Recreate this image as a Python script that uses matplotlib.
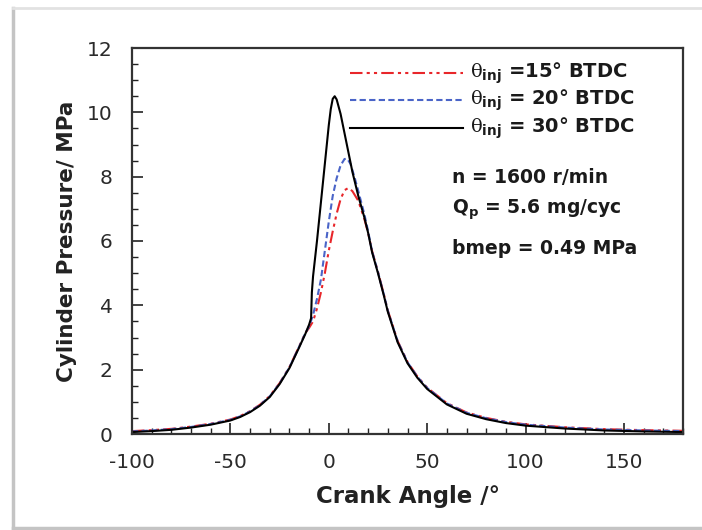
import matplotlib
matplotlib.use('Agg')
import matplotlib.pyplot as plt
from matplotlib.lines import Line2D
from matplotlib.ticker import MultipleLocator

plt.rcParams['font.family'] = ['DejaVu Sans']
plt.rcParams['axes.unicode_minus'] = False
plt.rcParams['mathtext.fontset'] = 'custom'
plt.rcParams['mathtext.rm'] = 'DejaVu Serif'
plt.rcParams['mathtext.it'] = 'DejaVu Serif'
plt.rcParams['mathtext.bf'] = 'DejaVu Sans:bold'

# shared compression / expansion parts
ca_left = [-100, -90, -80, -70, -60, -50, -45, -40, -35, -30, -25, -20, -15, -12]
p_left = [0.06, 0.09, 0.13, 0.2, 0.29, 0.42, 0.53, 0.68, 0.88, 1.15, 1.55, 2.05, 2.7, 3.1]
ca_right = [22, 25, 28, 30, 35, 40, 45, 50, 60, 70, 80, 90, 100, 120, 140, 160, 180]
p_right = [5.65, 5.0, 4.3, 3.8, 2.85, 2.2, 1.75, 1.4, 0.92, 0.63, 0.46, 0.34, 0.26, 0.17, 0.11, 0.08, 0.06]

# combustion region for each injection timing
ca_15 = [-10, -8, -6, -4, -2, 0, 2, 4, 6, 8, 10, 12, 15, 18, 20]
p_15 = [3.3, 3.5, 3.9, 4.4, 5.0, 5.7, 6.3, 6.85, 7.3, 7.58, 7.65, 7.55, 7.25, 6.7, 6.25]
ca_20 = [-10, -8, -6, -4, -2, 0, 2, 4, 6, 8, 9.5, 11, 13, 15, 18, 20]
p_20 = [3.35, 3.7, 4.2, 4.8, 5.7, 6.6, 7.4, 7.95, 8.35, 8.55, 8.55, 8.4, 8.0, 7.55, 6.85, 6.3]
ca_30 = [-10, -9, -8.6, -8, -6, -4, -2, 0, 1, 2, 3, 4, 6, 8, 10, 12, 15, 18, 20]
p_30 = [3.4, 3.6, 4.4, 4.9, 6.0, 7.2, 8.4, 9.6, 10.1, 10.42, 10.5, 10.4, 9.95, 9.35, 8.75, 8.15, 7.4, 6.75, 6.25]

labels = [r'$\theta_{\mathbf{inj}}$ =15° BTDC',
          r'$\theta_{\mathbf{inj}}$ = 20° BTDC',
          r'$\theta_{\mathbf{inj}}$ = 30° BTDC']
notes = ['n = 1600 r/min', r'Q$_{\mathbf{p}}$ = 5.6 mg/cyc', 'bmep = 0.49 MPa']

fig = plt.figure(figsize=(7.02, 5.30), dpi=100)
ax = fig.add_axes([132/702, 1 - 434/530, 551/702, 386/530])

# picture frame
fig.add_artist(Line2D([13/702, 13/702], [1 - 8/530, 1 - 528/530], color='#c4c4c4', lw=2.5, transform=fig.transFigure))
fig.add_artist(Line2D([13/702, 1], [1 - 8/530, 1 - 8/530], color='#e2e2e2', lw=2, transform=fig.transFigure))
fig.add_artist(Line2D([13/702, 1], [1 - 528/530, 1 - 528/530], color='#c4c4c4', lw=2.5, transform=fig.transFigure))

red = '#e8262a'
blue = '#4a64c8'
ax.plot(ca_left + ca_15 + ca_right, [v + 0.03 for v in p_left] + p_15 + [v + 0.04 for v in p_right],
        color=red, lw=1.5, dashes=(6, 2, 1.5, 2, 1.5, 2))
ax.plot(ca_left + ca_20 + ca_right, [v + 0.02 for v in p_left] + p_20 + [v + 0.03 for v in p_right],
        color=blue, lw=1.5, dashes=(3, 1.6))
ax.plot(ca_left + ca_30 + ca_right, p_left + p_30 + p_right, color='black', lw=1.5)

ax.set_xlim(-100, 180)
ax.set_ylim(0, 12)
ax.xaxis.set_major_locator(MultipleLocator(50))
ax.xaxis.set_minor_locator(MultipleLocator(10))
ax.yaxis.set_major_locator(MultipleLocator(2))
ax.yaxis.set_minor_locator(MultipleLocator(0.5))
ax.tick_params(which='both', direction='in', color='#222222', labelsize=14.5, labelcolor='#2a2a2a')
ax.tick_params(which='major', length=8, width=1.2)
ax.tick_params(which='minor', length=4, width=1)
ax.tick_params(axis='x', pad=14)
ax.tick_params(axis='y', pad=14)
for s in ax.spines.values():
    s.set_linewidth(1.6)
    s.set_color('#333333')

ax.set_xlabel('Crank Angle /°', fontsize=16.5, fontweight='bold', labelpad=9, color='#222222')
ax.set_ylabel('Cylinder Pressure/ MPa', fontsize=15.5, fontweight='bold', labelpad=7, color='#222222')

# legend drawn as lines + text in data coords
leg_styles = [dict(color=red, dashes=(6, 2, 1.5, 2, 1.5, 2)),
              dict(color=blue, dashes=(3, 1.6)),
              dict(color='black')]
leg_y = [11.22, 10.38, 9.51]
for yy, st, lab in zip(leg_y, leg_styles, labels):
    ax.plot([11, 68], [yy, yy], lw=1.5, **st)
    ax.text(72, yy, lab, fontsize=14, fontweight='bold', va='center', ha='left', color='#1a1a1a')

note_y = [7.96, 6.96, 5.78]
for yy, t in zip(note_y, notes):
    ax.text(62.5, yy, t, fontsize=13.5, fontweight='bold', va='center', ha='left', color='#1a1a1a')

fig.savefig('out.png', dpi=100)
